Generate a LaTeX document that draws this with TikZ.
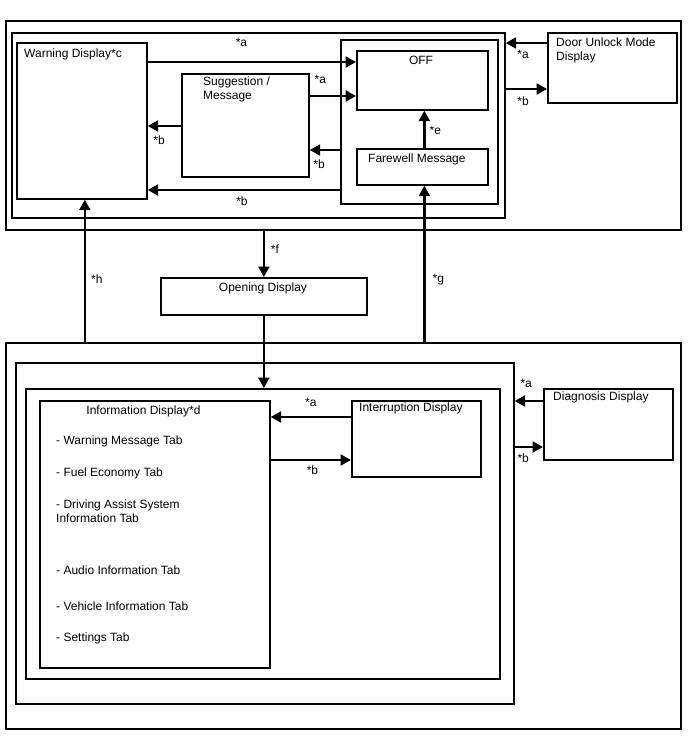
\documentclass[tikz,border=0pt]{standalone}
\usepackage{fontspec}
\setmainfont{Liberation Sans}
\usetikzlibrary{arrows.meta}

\begin{document}
\begin{tikzpicture}[x=1pt, y=-1pt, font=\fontsize{12}{14}\selectfont,
	box/.style={draw, line width=1.7pt, anchor=north west, inner sep=0pt},
	arr/.style={line width=2.4pt, -{Triangle[length=10.5pt, width=11pt]}},
	lab/.style={inner sep=0pt},
	txt/.style={inner sep=0pt, align=left}]
	\useasboundingbox (0,0) rectangle (688,755);
	\node [box, minimum width=675pt, minimum height=209pt] (topframe) at (5,20) {};
	\node [box, minimum width=493pt, minimum height=185pt] (warnframe) at (11,32) {};
	\node [box, minimum width=130pt, minimum height=156pt] (warn) at (16,42) {};
	\node [box, minimum width=127pt, minimum height=103pt] (sugg) at (181,73) {};
	\node [box, minimum width=157pt, minimum height=164pt] (offgrp) at (340,39) {};
	\node [box, minimum width=131pt, minimum height=59pt] (off) at (356,50) {};
	\node [box, minimum width=131pt, minimum height=36pt] (farewell) at (356,148) {};
	\node [box, minimum width=129pt, minimum height=70pt] (door) at (547,32) {};
	\node [box, minimum width=206pt, minimum height=37pt] (opening) at (160,277) {};
	\node [box, minimum width=675pt, minimum height=386pt] (botframe) at (5,342) {};
	\node [box, minimum width=498pt, minimum height=341pt] (second) at (15,362) {};
	\node [box, minimum width=474pt, minimum height=290pt] (third) at (25,388) {};
	\node [box, minimum width=230pt, minimum height=267pt] (info) at (39,400) {};
	\node [box, minimum width=129pt, minimum height=76pt] (interrupt) at (351,400) {};
	\node [box, minimum width=129pt, minimum height=71pt] (diag) at (543,388) {};

	\node [txt, anchor=west] (warntxt) at (24,54) {Warning Display*c};
	\node [txt, anchor=north west] (suggtxt) at (203,77) {Suggestion /\\Message};
	\node [txt] (offtxt) at (421,60) {OFF};
	\node [txt, anchor=west] (fwtxt) at (368,159) {Farewell Message};
	\node [txt, anchor=north west] (doortxt) at (556,37.5) {Door Unlock Mode\\Display};
	\node [txt] (opentxt) at (263,288) {Opening Display};
	\node [txt] (infotxt) at (143.5,411) {Information Display*d};
	\node [txt, anchor=west] (inttxt) at (359,408) {Interruption Display};
	\node [txt, anchor=west] (diagtxt) at (553,397) {Diagnosis Display};
	\foreach \ty/\tabname [count=\i] in {441/Warning Message Tab, 473/Fuel Economy Tab, 511/{Driving Assist System\\Information Tab}, 570/Audio Information Tab, 606/Vehicle Information Tab, 638/Settings Tab}
		\node [txt, anchor=west] (tab\i) at (56,\ty) {- \tabname};

	\draw [arr] ([yshift=-20]warn.north east) -- ([yshift=-20]warn.north east -| off.west) node [lab, pos=.45, yshift=20] {*a};
	\draw [arr] ([yshift=-23]sugg.north east) -- ([yshift=-23]sugg.north east -| off.west) node [lab, pos=.23, yshift=17] {*a};
	\draw [arr] ([yshift=-53]sugg.north west) -- ([yshift=-53]sugg.north west -| warn.east) node [lab, pos=.66, yshift=-14] {*b};
	\draw [arr] ([yshift=-111]offgrp.north west) -- ([yshift=-111]offgrp.north west -| sugg.east) node [lab, pos=.69, yshift=-14] {*b};
	\draw [arr] ([yshift=-151]offgrp.north west) -- ([yshift=-151]offgrp.north west -| warn.east) node [lab, pos=.51, yshift=-11] {*b};
	\draw [arr] ([xshift=2]farewell.north) -- ([xshift=2]off.south) node [lab, pos=.46, xshift=11] {*e};
	\draw [arr] ([yshift=-11]door.north west) -- ([yshift=-11]door.north west -| warnframe.east) node [lab, pos=.58, yshift=-11] {*a};
	\draw [arr] ([yshift=-57]door.north west -| warnframe.east) -- ([yshift=-57]door.north west) node [lab, pos=.42, yshift=-12] {*b};
	\draw [arr] (topframe.south -| opening.north) -- (opening.north) node [lab, pos=.4, xshift=11] {*f};
	\draw [arr] (opening.south) -- (opening.south |- third.north);
	\draw [arr] ([xshift=3]botframe.north -| warn.south) -- ([xshift=3]warn.south) node [lab, pos=.44, xshift=12] {*h};
	\draw [arr] ([xshift=2]botframe.north -| farewell.south) -- ([xshift=2]farewell.south) node [lab, pos=.4, xshift=14] {*g};
	\draw [arr] ([yshift=-17]interrupt.north west) -- ([yshift=-17]interrupt.north west -| info.east) node [lab, pos=.5, yshift=15] {*a};
	\draw [arr] ([yshift=-60]interrupt.north west -| info.east) -- ([yshift=-60]interrupt.north west) node [lab, pos=.52, yshift=-10] {*b};
	\draw [arr] ([yshift=-13]diag.north west) -- ([yshift=-13]diag.north west -| second.east) node [lab, pos=.6, yshift=18] {*a};
	\draw [arr] ([yshift=-59]diag.north west -| second.east) -- ([yshift=-59]diag.north west) node [lab, pos=.3, yshift=-11] {*b};
\end{tikzpicture}
\end{document}
